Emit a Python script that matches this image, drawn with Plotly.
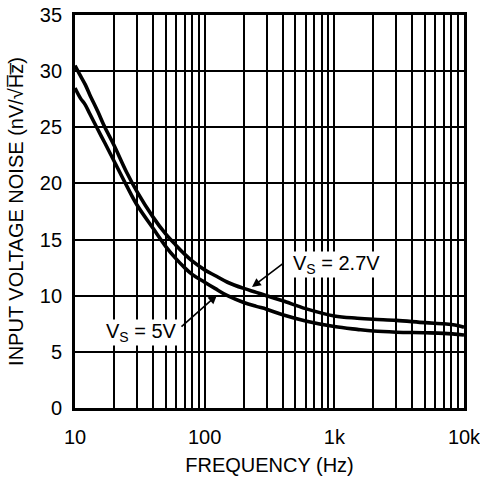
import plotly.graph_objects as go

# Data
freq_27 = [10, 11, 12, 13, 15, 17, 20, 25, 30, 40, 50, 60, 70, 80, 100, 120, 150,
           200, 250, 300, 400, 600, 1000, 1500, 2000, 3000, 5000, 7000, 8500, 10000]
noise_27 = [30.5, 29.6, 28.8, 27.9, 26.4, 25.0, 23.4, 21.0, 19.3, 17.0, 15.5, 14.5,
            13.7, 13.1, 12.3, 11.8, 11.2, 10.65, 10.3, 10.0, 9.55, 8.85, 8.2, 8.0, 7.9,
            7.8, 7.6, 7.5, 7.4, 7.2]

freq_5 = [10, 11, 12, 13, 15, 17, 20, 25, 30, 40, 50, 60, 70, 80, 100, 120, 150,
          200, 250, 300, 400, 600, 1000, 1500, 2000, 3000, 5000, 7000, 10000]
noise_5 = [28.5, 27.6, 27.0, 26.2, 24.8, 23.6, 22.0, 19.8, 18.1, 16.0, 14.4, 13.3,
           12.5, 11.9, 11.2, 10.65, 10.0, 9.4, 9.05, 8.8, 8.3, 7.75, 7.25, 7.0, 6.85,
           6.75, 6.7, 6.65, 6.5]

x_grid = [m * d for d in (10, 100, 1000) for m in range(1, 10)] + [10000]
x_labels = {10: "10", 100: "100", 1000: "1k", 10000: "10k"}
x_ticktext = [x_labels.get(v, "") for v in x_grid]
y_ticks = [0, 5, 10, 15, 20, 25, 30, 35]

FONT = "Liberation Sans, Arial, sans-serif"
FS = 20

fig = go.Figure()
fig.add_trace(go.Scatter(x=freq_27, y=noise_27, mode="lines",
                         line=dict(color="black", width=3.6, shape="spline"),
                         showlegend=False))
fig.add_trace(go.Scatter(x=freq_5, y=noise_5, mode="lines",
                         line=dict(color="black", width=3.6, shape="spline"),
                         showlegend=False))

fig.update_layout(
    width=480, height=480,
    margin=dict(l=75, r=16, t=15, b=72),
    paper_bgcolor="white", plot_bgcolor="white",
    font=dict(family=FONT, size=FS, color="black"),
    xaxis=dict(type="log", range=[1, 4], tickmode="array", tickvals=x_grid,
               ticktext=x_ticktext, showgrid=True, gridcolor="black", gridwidth=1.7,
               showline=True, linecolor="black", linewidth=2.8, mirror=True,
               ticks="", ticklabelstandoff=9, zeroline=False, automargin=False,
               ticklabeloverflow="allow",
               title=dict(text="FREQUENCY (Hz)", standoff=12,
                          font=dict(size=FS, family=FONT))),
    yaxis=dict(range=[0, 35], tickmode="array", tickvals=y_ticks,
               showgrid=True, gridcolor="black", gridwidth=1.7,
               showline=True, linecolor="black", linewidth=2.8, mirror=True,
               ticks="", ticklabelstandoff=6, zeroline=False, automargin=False,
               ticklabeloverflow="allow",
               title=dict(text="INPUT VOLTAGE NOISE (nV/√H\u0305z\u0305)", standoff=11,
                          font=dict(size=FS, family=FONT))),
)

# Labels with arrows
fig.add_annotation(x=2.67, y=11.55, xref="x", yref="y", text="V<sub>S</sub> = 2.7V",
                   showarrow=False, font=dict(size=FS, family=FONT),
                   bgcolor="white", xanchor="left", yanchor="bottom", borderpad=0)
fig.add_annotation(x=2.365, y=10.77, xref="x", yref="y", text="", showarrow=True,
                   ax=33, ay=-25, arrowhead=2, arrowsize=1.1, arrowwidth=1.6,
                   arrowcolor="black")
fig.add_annotation(x=1.51, y=5.55, xref="x", yref="y", text="V<sub>S</sub> = 5V",
                   showarrow=False, font=dict(size=FS, family=FONT),
                   bgcolor="white", xanchor="center", yanchor="bottom", borderpad=0)
fig.add_annotation(x=2.095, y=10.06, xref="x", yref="y", text="", showarrow=True,
                   ax=-37, ay=33, arrowhead=2, arrowsize=1.1, arrowwidth=1.6,
                   arrowcolor="black")

fig.write_html("out.html",
               config={"displayModeBar": False},
               post_script="document.documentElement.style.margin='0';"
                           "document.body.style.margin='0';"
                           "document.body.style.padding='0';"
                           "document.body.style.overflow='hidden';")
